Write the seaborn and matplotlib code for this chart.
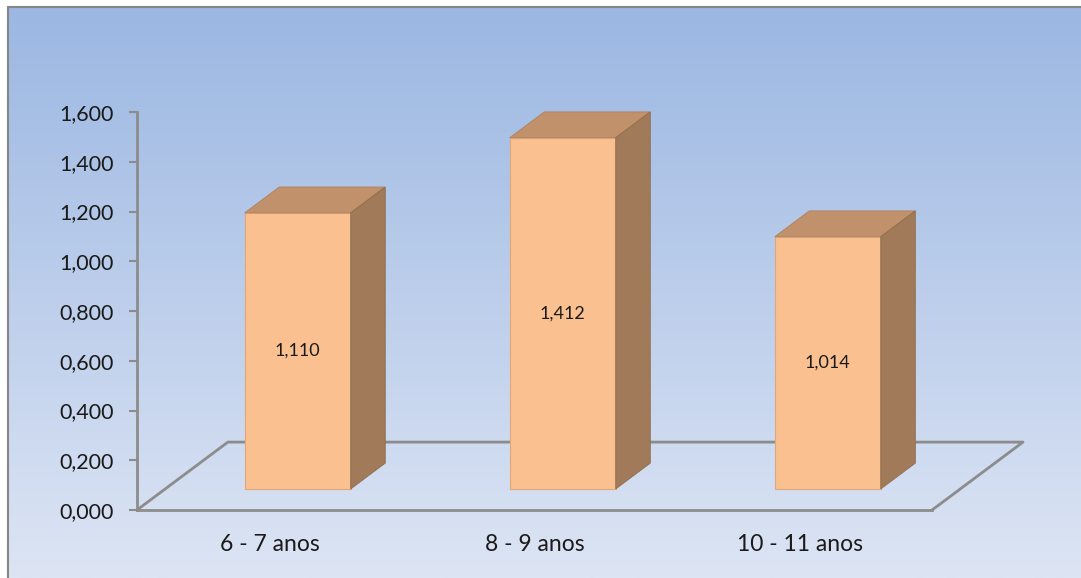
import numpy as np
import pandas as pd
import seaborn as sns
import matplotlib.pyplot as plt
from matplotlib.patches import Polygon

# data
categories = ['6 - 7 anos', '8 - 9 anos', '10 - 11 anos']
values = [1.110, 1.412, 1.014]
yticks = [0.0, 0.2, 0.4, 0.6, 0.8, 1.0, 1.2, 1.4, 1.6]

df = pd.DataFrame({'faixa': categories, 'valor': values})


def fmt(v):
    return '{:.3f}'.format(v).replace('.', ',')


sns.set_theme(style='white')
plt.rcParams['font.family'] = ['Lato', 'DejaVu Sans']

fig = plt.figure(figsize=(10.81, 5.78), dpi=100)
fig.patch.set_facecolor('white')

# gradient background of the chart area
bg = fig.add_axes([8 / 1081, 0, 1 - 8 / 1081, 1 - 7 / 578], zorder=-5)
grad = np.linspace(0, 1, 256).reshape(-1, 1)
top_c = np.array([155, 183, 226]) / 255
bot_c = np.array([221, 229, 244]) / 255
img = top_c[None, None, :] * (1 - grad[:, :, None]) + bot_c[None, None, :] * grad[:, :, None]
bg.imshow(img, aspect='auto', extent=[0, 1, 0, 1])
bg.set_axis_off()
fig.add_artist(plt.Line2D([8 / 1081, 8 / 1081], [0, 1 - 7 / 578], color='#868686', lw=1.5,
                          transform=fig.transFigure))
fig.add_artist(plt.Line2D([8 / 1081, 1], [1 - 7 / 578, 1 - 7 / 578], color='#868686', lw=1.5,
                          transform=fig.transFigure))

# plot axes
ax = fig.add_axes([137 / 1081, 68 / 578, (1023 - 137) / 1081, 398 / 578])
ax.patch.set_alpha(0)

n = len(categories)
depth_x, depth_y = 0.343, 0.273      # floor depth in data units
f0, f1 = 0.31, 0.69                  # bar position inside the depth
bar_w = 0.4
grey = '#8C8C8C'

front = '#FAC090'
top_col = '#C0916A'
side_col = '#A07A59'

sns.barplot(data=df, x='faixa', y='valor', ax=ax, color=front, width=bar_w,
            edgecolor='#E0A878', linewidth=0.8, saturation=1, zorder=3)

# floor
x0, x1 = -0.5, n - 0.5
ax.plot([x0, x0 + depth_x, x1 + depth_x, x1], [0, depth_y, depth_y, 0], color=grey, lw=2,
        zorder=1, clip_on=False)

# move bars back into the floor and add top/side faces
for p in ax.patches[:n]:
    bx, bw, bh = p.get_x(), p.get_width(), p.get_height()
    ox, oy = f0 * depth_x, f0 * depth_y
    dx, dy = (f1 - f0) * depth_x, (f1 - f0) * depth_y
    p.set_xy((bx + ox, oy))
    p.set_clip_on(False)
    xl, xr, yb, yt = bx + ox, bx + ox + bw, oy, oy + bh
    ax.add_patch(Polygon([[xl, yt], [xl + dx, yt + dy], [xr + dx, yt + dy], [xr, yt]],
                         closed=True, facecolor=top_col, edgecolor='#B08060', lw=0.6,
                         zorder=3, clip_on=False))
    ax.add_patch(Polygon([[xr, yb], [xr + dx, yb + dy], [xr + dx, yt + dy], [xr, yt]],
                         closed=True, facecolor=side_col, edgecolor='#8E6C4E', lw=0.6,
                         zorder=3, clip_on=False))
    ax.text(xl + bw / 2, yb + bh / 2, fmt(bh), ha='center', va='center', fontsize=13,
            color='#1a1a1a', zorder=4)

ax.set_xlim(x0, x1 + depth_x)
ax.set_ylim(0, 1.6)
ax.set_yticks(yticks)
ax.set_yticklabels([fmt(v) for v in yticks], fontsize=15.5, color='#1a1a1a')
ax.set_xticks(range(n))
ax.set_xticklabels(categories, fontsize=16.5, color='#1a1a1a')
ax.set_xticks(np.arange(n + 1) - 0.5, minor=True)
ax.tick_params(axis='x', which='major', length=0, pad=17)
ax.tick_params(axis='x', which='minor', length=5, width=1.5, color=grey, direction='out')
ax.tick_params(axis='y', length=6, width=1.5, color=grey, direction='out', left=True, pad=11)
ax.set_xlabel('')
ax.set_ylabel('')
for s in ['top', 'right']:
    ax.spines[s].set_visible(False)
for s in ['left', 'bottom']:
    ax.spines[s].set_color(grey)
    ax.spines[s].set_linewidth(2)
ax.spines['bottom'].set_bounds(x0, x1)

fig.savefig('out.png', dpi=100)
